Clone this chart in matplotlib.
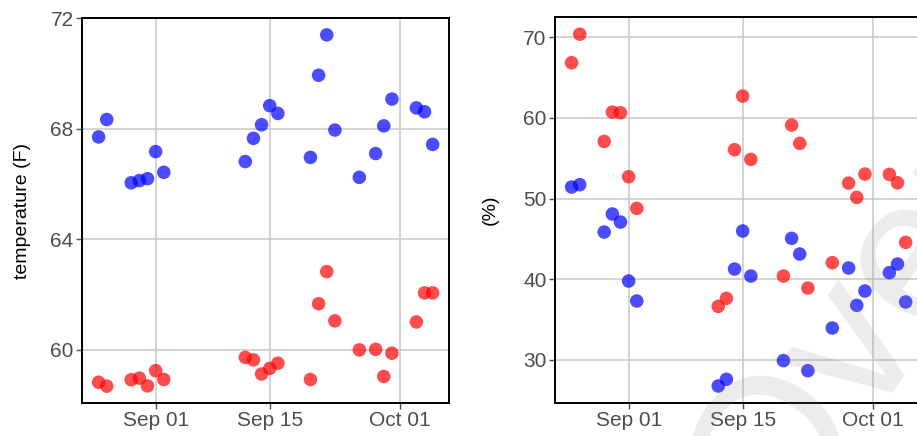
import numpy as np
import pandas as pd
import matplotlib
matplotlib.use('Agg')
import matplotlib.pyplot as plt
import matplotlib.dates as mdates

plt.rcParams['font.family'] = ['Liberation Sans', 'DejaVu Sans']

dates = pd.to_datetime([
    '2015-08-25', '2015-08-26', '2015-08-29', '2015-08-30', '2015-08-31',
    '2015-09-01', '2015-09-02', '2015-09-12', '2015-09-13', '2015-09-14',
    '2015-09-15', '2015-09-16', '2015-09-20', '2015-09-21', '2015-09-22',
    '2015-09-23', '2015-09-26', '2015-09-28', '2015-09-29', '2015-09-30',
    '2015-10-03', '2015-10-04', '2015-10-05'])

temp_blue = [67.70, 68.33, 66.04, 66.12, 66.19, 67.17, 66.42, 66.81, 67.65, 68.14,
             68.83, 68.55, 66.96, 69.93, 71.39, 67.95, 66.24, 67.10, 68.10, 69.07,
             68.75, 68.61, 67.43]
temp_red = [58.83, 58.69, 58.92, 58.98, 58.70, 59.25, 58.93, 59.73, 59.64, 59.13,
            59.33, 59.52, 58.93, 61.67, 62.83, 61.05, 60.00, 60.02, 59.04, 59.88,
            61.01, 62.06, 62.06]

pct_red = [66.86, 70.41, 57.09, 60.73, 60.65, 52.71, 48.78, 36.62, 37.61, 56.06,
           62.72, 54.86, 40.38, 59.12, 56.85, 38.89, 42.04, 51.92, 50.14, 53.04,
           53.00, 51.96, 44.56]
pct_blue = [51.43, 51.72, 45.84, 48.08, 47.08, 39.76, 37.28, 26.73, 27.56, 41.25,
            45.97, 40.38, 29.88, 45.06, 43.11, 28.63, 33.93, 41.38, 36.74, 38.52,
            40.80, 41.87, 37.16]

xticks = pd.to_datetime(['2015-09-01', '2015-09-15', '2015-10-01'])
xminor = pd.to_datetime(['2015-08-25', '2015-09-08', '2015-09-23'])
xlim = (pd.Timestamp('2015-08-22 23:00'), pd.Timestamp('2015-10-07'))

fig = plt.figure(figsize=(9.17, 4.36), dpi=100)
ax1 = fig.add_axes([0.0894, 0.0757, 0.4002, 0.883])
ax2 = fig.add_axes([0.6052, 0.0757, 0.4002, 0.885])


def style(ax, yticks, yminor, ylim, ylabel, labelpad):
    ax.set_xlim(*xlim)
    ax.set_ylim(*ylim)
    ax.set_xticks(xticks)
    ax.set_xticks(xminor, minor=True)
    ax.xaxis.set_major_formatter(mdates.DateFormatter('%b %d'))
    ax.set_yticks(yticks)
    ax.set_yticks(yminor, minor=True)
    ax.grid(True, which='major', color='#c8c8c8', linewidth=1.1, zorder=0)
    ax.set_axisbelow(True)
    for s in ax.spines.values():
        s.set_color('black')
        s.set_linewidth(1.4)
    ax.tick_params(which='major', length=4, width=1, color='#4d4d4d',
                   labelsize=15, labelcolor='#4d4d4d', pad=2)
    ax.tick_params(which='minor', length=2.5, width=1, color='white',
                   direction='in')
    ax.set_ylabel(ylabel, fontsize=14, color='black', labelpad=labelpad)


ax1.scatter(dates, temp_blue, s=95, color='blue', alpha=0.7, edgecolors='none', zorder=3)
ax1.scatter(dates, temp_red, s=95, color='red', alpha=0.7, edgecolors='none', zorder=3)
style(ax1, [60, 64, 68, 72], [62, 66, 70], (58.08, 72.0), 'temperature (F)', 14)

ax2.scatter(dates, pct_red, s=95, color='red', alpha=0.7, edgecolors='none', zorder=3)
ax2.scatter(dates, pct_blue, s=95, color='blue', alpha=0.7, edgecolors='none', zorder=3)
style(ax2, [30, 40, 50, 60, 70], [35, 45, 55, 65], (24.62, 72.52), '(%)', 18)

# faint watermark
fig.text(0.8451, -0.2569, 'Overview', fontsize=148, rotation=55,
         rotation_mode='anchor', ha='left', va='baseline',
         color='gray', alpha=0.15, zorder=10)

fig.savefig('out.png', dpi=100)
